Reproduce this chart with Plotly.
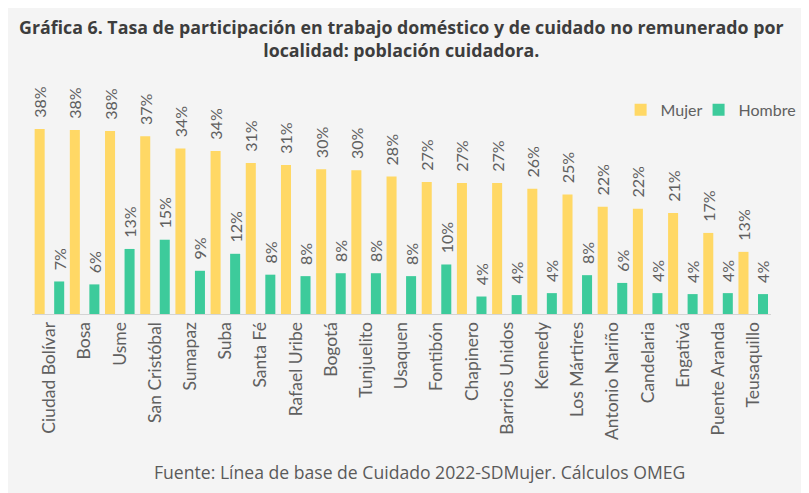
import plotly.graph_objects as go

# Localidades y tasas (%) de participación
localidades = ["Ciudad Bolívar", "Bosa", "Usme", "San Cristóbal", "Sumapaz", "Suba",
               "Santa Fé", "Rafael Uribe", "Bogotá", "Tunjuelito", "Usaquen", "Fontibón",
               "Chapinero", "Barrios Unidos", "Kennedy", "Los Mártires", "Antonio Nariño",
               "Candelaria", "Engativá", "Puente Aranda", "Teusaquillo"]
mujer = [38.1, 37.9, 37.7, 36.6, 34.1, 33.6, 31.1, 30.7, 29.8, 29.6, 28.3, 27.2,
         27.0, 27.0, 25.8, 24.6, 22.1, 21.7, 20.8, 16.7, 12.8]
hombre = [6.7, 6.1, 13.4, 15.3, 8.9, 12.4, 8.1, 7.8, 8.4, 8.4, 7.8, 10.2,
          3.6, 3.9, 4.3, 8.0, 6.4, 4.3, 4.1, 4.3, 4.1]

AMARILLO = "#FFD865"
VERDE = "#3DCB9B"
GRIS = "#606060"

fig = go.Figure()
for nombre, vals, color, off, ley in [("Mujer", mujer, AMARILLO, -0.425, "legend"),
                                      ("Hombre", hombre, VERDE, 0.13, "legend2")]:
    fig.add_trace(go.Bar(
        x=localidades, y=vals, name=nombre, legend=ley,
        marker=dict(color=color, line=dict(width=0)),
        width=0.285, offset=off,
        text=[f"  {round(v)}%" for v in vals],
        textposition="outside", textangle=-90, constraintext="none",
        textfont=dict(family="Lato", size=16, color=GRIS),
        cliponaxis=False,
    ))

ley_estilo = dict(orientation="h", y=0.872, xanchor="left", yanchor="middle", itemwidth=30,
                  font=dict(family="Lato", size=16, color=GRIS), bgcolor="rgba(0,0,0,0)")

# la página tiene 8 px de margen en el body: la figura mide 801x485
fig.update_layout(
    width=801, height=485,
    barmode="overlay",
    paper_bgcolor="#f4f4f4", plot_bgcolor="#f4f4f4",
    margin=dict(l=23.5, r=38, t=72, b=179, autoexpand=False),
    showlegend=True,
    legend=dict(x=0.7965, **ley_estilo),
    legend2=dict(x=0.9020, **ley_estilo),
    xaxis=dict(tickangle=-90, showgrid=False, showline=True, linecolor="#d4d4d4",
               linewidth=1, ticks="", tickfont=dict(family="Lato", size=17.5, color=GRIS)),
    yaxis=dict(range=[0, 48.2], visible=False),
    annotations=[
        dict(text="Gráfica 6. Tasa de participación en trabajo doméstico y de cuidado no remunerado por<br>localidad: población cuidadora.",
             xref="paper", yref="paper", x=0.5003, y=1.286, xanchor="center", yanchor="top",
             showarrow=False,
             font=dict(family="Open Sans", size=17.8, color="#3d3d3d", weight=700)),
        dict(text="Fuente: Línea de base de Cuidado 2022-SDMujer. Cálculos OMEG",
             xref="paper", yref="paper", x=0.5247, y=-0.675, xanchor="center", yanchor="middle",
             showarrow=False, font=dict(family="Open Sans", size=17.6, color="#5a5a5a")),
    ],
)

fig.write_html("out.html")
